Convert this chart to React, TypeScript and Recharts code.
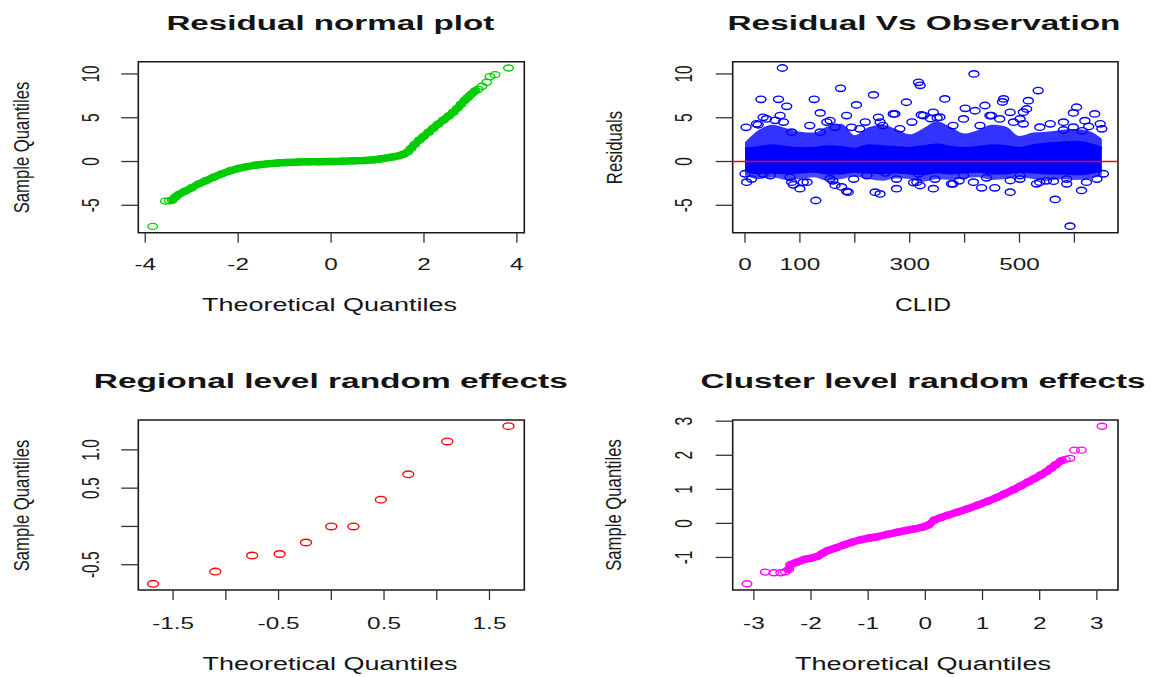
import { ComposedChart, Scatter, Line, Area, XAxis, YAxis, ReferenceLine, ReferenceArea } from 'recharts';

const FONT = '"Liberation Sans", Arial, Helvetica, sans-serif';

// Residual normal plot: theoretical vs sample quantiles
const resTheo = [-3.84, -3.57, -3.48, -3.42, -3.35, -3.28, -3.15, -3.0, -2.85, -2.7, -2.53, -2.35, -2.17, -2.0, -1.81, -1.6, -1.38, -1.15, -0.95, -0.7, -0.5, -0.25, 0, 0.25, 0.48, 0.7, 0.91, 1.05, 1.2, 1.35, 1.48, 1.57, 1.65, 1.72, 1.8, 1.9, 1.99, 2.1, 2.2, 2.3, 2.42, 2.53, 2.63, 2.72, 2.8, 2.88, 2.95, 3.02, 3.1, 3.17, 3.25, 3.35, 3.42, 3.53, 3.82];
const resSample = [-7.41, -4.52, -4.48, -4.42, -4.05, -3.75, -3.4, -3.0, -2.55, -2.2, -1.8, -1.4, -1.05, -0.8, -0.58, -0.4, -0.27, -0.17, -0.11, -0.06, -0.04, -0.02, 0, 0.03, 0.08, 0.12, 0.19, 0.28, 0.42, 0.55, 0.68, 0.85, 1.1, 1.5, 1.95, 2.45, 2.85, 3.35, 3.8, 4.25, 4.75, 5.2, 5.63, 6.1, 6.55, 7.0, 7.35, 7.7, 8.05, 8.25, 8.6, 9.05, 9.7, 9.92, 10.68];

// Residual vs observation: dense band per CLID bin
const bandClid = [0, 25, 50, 75, 100, 125, 150, 175, 200, 225, 250, 275, 300, 325, 350, 375, 400, 425, 450, 475, 500, 525, 550, 575, 600, 625, 650];
const coreLow = [-1.0, -1.3, -1.2, -1.3, -1.2, -1.1, -1.3, -1.3, -1.1, -1.2, -1.3, -1.2, -1.3, -1.4, -1.2, -1.3, -1.2, -1.1, -1.3, -1.3, -1.1, -1.2, -1.3, -1.3, -1.4, -1.3, -1.0];
const coreHigh = [1.4, 1.6, 1.8, 1.6, 1.5, 1.5, 1.7, 1.6, 1.4, 1.8, 1.7, 1.6, 1.5, 1.7, 1.9, 1.6, 1.5, 1.6, 1.8, 1.7, 1.5, 1.8, 2.0, 2.1, 2.2, 2.0, 1.5];
const upperEdge = [2.2, 3.6, 4.2, 3.8, 3.4, 3.3, 4.0, 4.3, 3.0, 3.9, 4.2, 3.7, 3.1, 3.8, 4.6, 3.9, 3.2, 3.6, 4.2, 4.0, 2.9, 3.3, 3.4, 3.6, 3.7, 3.5, 2.6];
const lowerEdge = [-1.6, -2.0, -1.8, -2.1, -2.0, -1.8, -2.2, -2.0, -1.7, -2.0, -2.2, -1.9, -2.0, -2.3, -2.0, -2.1, -1.9, -1.8, -2.1, -2.0, -1.8, -2.0, -2.2, -2.0, -2.1, -2.0, -1.6];

// Residual vs observation: individual points outside the dense band
const obsClid = [
  68, 174, 29, 61, 76, 126, 137, 2, 33, 21,
  64, 55, 118, 149, 164, 185, 0, 3, 12, 82,
  88, 100, 113, 129, 155, 164, 185, 176, 316, 319,
  234, 294, 364, 417, 203, 321, 401, 273, 343, 350,
  243, 194, 219, 251, 304, 379, 237, 246, 188, 276,
  343, 376, 390, 316, 198, 307, 256, 534, 471, 469,
  516, 513, 604, 598, 437, 419, 483, 449, 501, 507,
  619, 614, 556, 580, 565, 592, 431, 455, 483, 531,
  586, 613, 549, 501, 33, 46, 85, 106, 160, 222,
  276, 313, 319, 346, 379, 398, 416, 440, 483, 501,
  537, 562, 586, 622, 641, 653, 24, 39, 70, 85,
  137, 155, 209, 246, 270, 282, 325, 338, 355, 398,
  428, 446, 464, 489, 507, 537, 580, 598, 626, 637,
  647, 650,
];
const obsResid = [
  10.68, 8.36, 7.1, 7.1, 6.3, 7.1, 5.55, 3.9, 5.05, 4.3,
  5.25, 4.7, 4.1, 4.5, 3.9, 5.25, -1.4, -2.36, -2.0, -1.8,
  -2.66, -3.1, -2.36, -4.45, -1.97, -2.7, -3.4, -2.9, 9.05, 8.7,
  7.6, 6.77, 7.15, 10.0, 6.46, 5.32, 6.08, 5.43, 5.62, 5.0,
  5.05, 3.9, 4.5, 4.1, 4.5, 4.1, -3.5, -3.7, -3.5, -3.1,
  -3.1, -2.55, -2.2, -1.4, -2.0, -2.4, -1.3, 8.1, 7.15, 6.8,
  6.95, 6.0, 6.2, 5.55, 6.4, 5.8, 5.62, 5.25, 4.87, 4.3,
  4.67, 3.5, 4.3, 3.6, -4.33, -7.38, -3.0, -3.0, -3.5, -2.55,
  -2.55, -3.3, -2.2, -2.0, -1.4, -1.6, -2.36, -2.36, -2.2, -1.6,
  -2.0, -2.36, -2.74, -2.0, -2.55, -1.6, -2.36, -1.86, -2.17, -1.6,
  -2.36, -2.24, -2.0, -2.36, -2.0, -1.4, 4.2, 4.87, 4.5, 3.35,
  3.35, 4.68, 3.73, 4.5, 5.44, 3.73, 5.25, 4.9, 5.06, 4.87,
  4.1, 5.25, 4.87, 4.49, 5.63, 3.92, 4.49, 3.92, 4.0, 5.44,
  4.3, 3.73,
];

// Regional level random effects
const regTheo = [-1.69, -1.1, -0.75, -0.49, -0.24, 0, 0.21, 0.47, 0.73, 1.1, 1.68];
const regSample = [-0.75, -0.59, -0.38, -0.36, -0.21, 0, 0, 0.35, 0.68, 1.11, 1.31];

// Cluster level random effects
const cluTheo = [-3.12, -2.8, -2.65, -2.53, -2.45, -2.39, -2.36, -2.25, -2.12, -2.0, -1.89, -1.8, -1.71, -1.55, -1.42, -1.28, -1.13, -0.98, -0.84, -0.66, -0.49, -0.34, -0.19, -0.05, 0.05, 0.16, 0.27, 0.39, 0.56, 0.74, 0.92, 1.09, 1.25, 1.39, 1.54, 1.68, 1.8, 1.91, 2.02, 2.12, 2.2, 2.28, 2.38, 2.45, 2.53, 2.61, 2.73, 3.09];
const cluSample = [-1.77, -1.43, -1.45, -1.45, -1.42, -1.35, -1.21, -1.14, -1.06, -1.02, -0.97, -0.88, -0.8, -0.71, -0.63, -0.55, -0.48, -0.43, -0.39, -0.32, -0.26, -0.21, -0.16, -0.11, -0.05, 0.1, 0.17, 0.24, 0.33, 0.43, 0.54, 0.65, 0.76, 0.87, 0.99, 1.11, 1.22, 1.32, 1.42, 1.52, 1.62, 1.72, 1.84, 1.88, 1.91, 2.15, 2.15, 2.85];

// ticks and their labels (R drops labels that would overlap)
const resXTicks = [-4, -2, 0, 2, 4];
const resXLabels = ['-4', '-2', '0', '2', '4'];
const resYTicks = [-5, 0, 5, 10];
const resYLabels = ['-5', '0', '5', '10'];
const obsXTicks = [0, 100, 200, 300, 400, 500, 600];
const obsXLabels = ['0', '100', '', '300', '', '500', ''];
const regXTicks = [-1.5, -1, -0.5, 0, 0.5, 1, 1.5];
const regXLabels = ['-1.5', '', '-0.5', '', '0.5', '', '1.5'];
const regYTicks = [-0.5, 0, 0.5, 1];
const regYLabels = ['-0.5', '', '0.5', '1.0'];
const cluXTicks = [-3, -2, -1, 0, 1, 2, 3];
const cluXLabels = ['-3', '-2', '-1', '0', '1', '2', '3'];
const cluYTicks = [-1, 0, 1, 2, 3];
const cluYLabels = ['-1', '0', '1', '2', '3'];

const pts = (xs: number[], ys: number[]) => xs.map((x, i) => ({ x, y: ys[i] }));

const resPts = pts(resTheo, resSample);
const resLine = resPts.filter((p) => p.x >= -3.45 && p.x <= 3.12);
const obsPts = pts(obsClid, obsResid);
const bandData = bandClid.map((x, i) => ({
  x,
  core: [coreLow[i], coreHigh[i]],
  upper: [coreHigh[i], upperEdge[i]],
  lower: [lowerEdge[i], coreLow[i]],
}));
const regPts = pts(regTheo, regSample);
const cluPts = pts(cluTheo, cluSample);
const cluLine = cluPts.filter((p) => p.x >= -2.4 && p.x <= 2.4);

const ring = (color: string, rx: number, ry: number) => (s: any) => (
  <ellipse cx={s.cx} cy={s.cy} rx={rx} ry={ry} fill="none" stroke={color} strokeWidth={1.4} />
);

type PanelProps = {
  left: number;
  top: number;
  width: number;
  height: number;
  plotTop: number;
  plotRight: number;
  yAxisWidth: number;
  xAxisHeight: number;
  xDomain: number[];
  yDomain: number[];
  xTicks: number[];
  xLabels: string[];
  yTicks: number[];
  yLabels: string[];
  xLabelY: number;
  yLabelX: number;
  children?: any;
};

function Panel(p: PanelProps) {
  return (
    <div style={{ position: 'absolute', left: p.left, top: p.top }}>
      <ComposedChart
        width={p.width}
        height={p.height}
        margin={{ top: p.plotTop, right: p.plotRight, bottom: 0, left: 0 }}
      >
        <XAxis
          type="number"
          dataKey="x"
          domain={p.xDomain}
          ticks={p.xTicks}
          interval={0}
          allowDataOverflow
          height={p.xAxisHeight}
          axisLine={false}
          tickSize={10}
          tickLine={{ stroke: '#333', strokeWidth: 1.3 }}
          tick={(t: any) => {
            const lab = p.xLabels[p.xTicks.indexOf(t.payload.value)];
            if (!lab) return <g />;
            return (
              <text
                transform={`translate(${t.x},${p.xLabelY}) scale(1.45,1)`}
                textAnchor="middle"
                fontSize={16.8}
                fontFamily={FONT}
                fill="#1a1a1a"
              >
                {lab}
              </text>
            );
          }}
        />
        <YAxis
          type="number"
          dataKey="y"
          domain={p.yDomain}
          ticks={p.yTicks}
          interval={0}
          allowDataOverflow
          width={p.yAxisWidth}
          axisLine={false}
          tickSize={17}
          tickLine={{ stroke: '#333', strokeWidth: 1.3 }}
          tick={(t: any) => {
            const lab = p.yLabels[p.yTicks.indexOf(t.payload.value)];
            if (!lab) return <g />;
            return (
              <text
                transform={`translate(${p.yLabelX},${t.y}) scale(1.55,1) rotate(-90)`}
                textAnchor="middle"
                fontSize={15.5}
                fontFamily={FONT}
                fill="#1a1a1a"
              >
                {lab}
              </text>
            );
          }}
        />
        {p.children}
        <ReferenceArea
          x1={p.xDomain[0]}
          x2={p.xDomain[1]}
          y1={p.yDomain[0]}
          y2={p.yDomain[1]}
          fill="none"
          stroke="#1a1a1a"
          strokeWidth={1.6}
          ifOverflow="visible"
        />
      </ComposedChart>
    </div>
  );
}

const hText = (x: number, y: number, s: string, size: number, len: number, bold = false) => (
  <text
    x={x}
    y={y}
    textAnchor="middle"
    fontSize={size}
    fontWeight={bold ? 'bold' : 'normal'}
    fontFamily={FONT}
    fill="#141414"
    textLength={len}
    lengthAdjust="spacingAndGlyphs"
  >
    {s}
  </text>
);

const vText = (x: number, y: number, s: string) => (
  <text
    transform={`translate(${x},${y}) scale(1.37,1) rotate(-90)`}
    textAnchor="middle"
    fontSize={16.7}
    fontFamily={FONT}
    fill="#1a1a1a"
  >
    {s}
  </text>
);

export default function App() {
  return (
    <div style={{ position: 'absolute', left: 0, top: 0, width: 1151, height: 677, background: '#fff' }}>
      <Panel
        left={0} top={0} width={575} height={340}
        plotTop={61.7} plotRight={50.7} yAxisWidth={138.3} xAxisHeight={107.3}
        xDomain={[-4.15, 4.16]} yDomain={[-8.13, 11.4]}
        xTicks={resXTicks} xLabels={resXLabels} yTicks={resYTicks} yLabels={resYLabels}
        xLabelY={270} yLabelX={99}
      >
        <Line data={resLine} dataKey="y" stroke="#00cd00" strokeWidth={7.5} dot={false} activeDot={false}
          strokeLinecap="round" strokeLinejoin="round" isAnimationActive={false} />
        <Scatter data={resPts} dataKey="y" shape={ring('#00cd00', 4.8, 3)} isAnimationActive={false} />
      </Panel>

      <Panel
        left={575} top={0} width={576} height={340}
        plotTop={61.7} plotRight={33} yAxisWidth={157.7} xAxisHeight={107.3}
        xDomain={[-22.4, 679.4]} yDomain={[-8.13, 11.4]}
        xTicks={obsXTicks} xLabels={obsXLabels} yTicks={resYTicks} yLabels={resYLabels}
        xLabelY={270} yLabelX={117}
      >
        <Area data={bandData} dataKey="lower" type="monotone" stroke="none" fill="#0000ff" fillOpacity={0.72} isAnimationActive={false} />
        <Area data={bandData} dataKey="upper" type="monotone" stroke="none" fill="#0000ff" fillOpacity={0.8} isAnimationActive={false} />
        <Area data={bandData} dataKey="core" type="monotone" stroke="#0000ff" strokeWidth={3} fill="#0000ff" fillOpacity={1} isAnimationActive={false} />
        <Scatter data={obsPts} dataKey="y" shape={ring('#0000ff', 5, 3.2)} isAnimationActive={false} />
        <ReferenceLine y={0} stroke="#ff0000" strokeWidth={1.3} />
      </Panel>

      <Panel
        left={0} top={340} width={575} height={337}
        plotTop={80} plotRight={50.7} yAxisWidth={138.3} xAxisHeight={87}
        xDomain={[-1.83, 1.83]} yDomain={[-0.83, 1.39]}
        xTicks={regXTicks} xLabels={regXLabels} yTicks={regYTicks} yLabels={regYLabels}
        xLabelY={289} yLabelX={99}
      >
        <Scatter data={regPts} dataKey="y" shape={ring('#ff0000', 5.5, 3.3)} isAnimationActive={false} />
      </Panel>

      <Panel
        left={575} top={340} width={576} height={337}
        plotTop={80} plotRight={33} yAxisWidth={157.7} xAxisHeight={87}
        xDomain={[-3.37, 3.37]} yDomain={[-1.955, 3.035]}
        xTicks={cluXTicks} xLabels={cluXLabels} yTicks={cluYTicks} yLabels={cluYLabels}
        xLabelY={289} yLabelX={117}
      >
        <Line data={cluLine} dataKey="y" stroke="#ff00ff" strokeWidth={7.5} dot={false} activeDot={false}
          strokeLinecap="round" strokeLinejoin="round" isAnimationActive={false} />
        <Scatter data={cluPts} dataKey="y" shape={ring('#ff00ff', 4.8, 3)} isAnimationActive={false} />
      </Panel>

      <svg width={1151} height={677} style={{ position: 'absolute', left: 0, top: 0, pointerEvents: 'none' }}>
        {hText(330.4, 29.5, 'Residual normal plot', 20, 328, true)}
        {hText(924, 29.5, 'Residual Vs Observation', 20, 393, true)}
        {hText(330.8, 387.5, 'Regional level random effects', 20, 474, true)}
        {hText(923, 387.5, 'Cluster level random effects', 20, 445, true)}
        {hText(329.5, 310.5, 'Theoretical Quantiles', 18, 255)}
        {hText(923, 310.5, 'CLID', 18, 56)}
        {hText(330, 669.5, 'Theoretical Quantiles', 18, 255)}
        {hText(923, 669.5, 'Theoretical Quantiles', 18, 256)}
        {vText(29.2, 147.5, 'Sample Quantiles')}
        {vText(622, 147.5, 'Residuals')}
        {vText(29.2, 505.5, 'Sample Quantiles')}
        {vText(621, 505, 'Sample Quantiles')}
      </svg>
    </div>
  );
}
